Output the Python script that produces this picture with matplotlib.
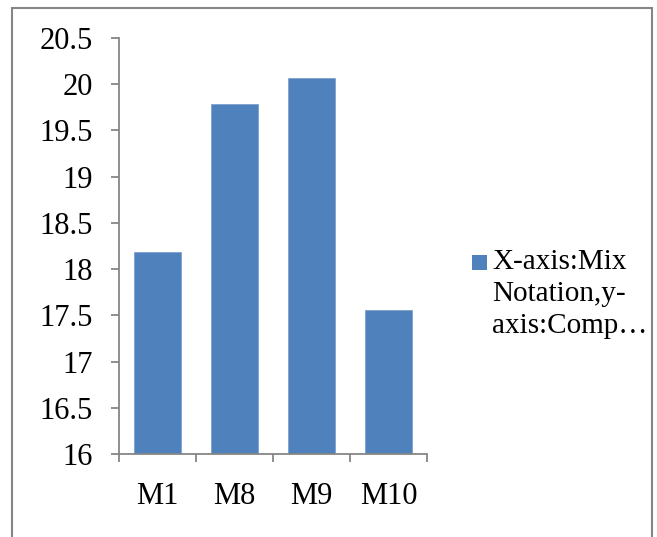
import matplotlib
matplotlib.use("Agg")
import matplotlib.pyplot as plt
from matplotlib.patches import Rectangle

categories = ["M1", "M8", "M9", "M10"]
values = [18.18, 19.79, 20.07, 17.56]
yticks = [16, 16.5, 17, 17.5, 18, 18.5, 19, 19.5, 20, 20.5]
ytick_labels = ["16", "16.5", "17", "17.5", "18", "18.5", "19", "19.5", "20", "20.5"]
legend_label = "X-axis:Mix\nNotation,y-\naxis:Comp…"

W, H = 657, 537
plt.rcParams['font.family'] = ['Liberation Serif', 'DejaVu Serif']
fig = plt.figure(figsize=(W / 100, H / 100), dpi=100)

ax = fig.add_axes([119 / W, 1 - 454 / H, (427 - 119) / W, (454 - 38) / H])
x = list(range(len(categories)))
bars = ax.bar(x, [v - 16 for v in values], bottom=16, width=0.6,
              color="#4F81BD", edgecolor="#7FA1CF", linewidth=0.6)
ax.set_xlim(-0.5, len(categories) - 0.5)
ax.set_ylim(16, 20.5)

spine_c = "#868686"
for s in ["top", "right"]:
    ax.spines[s].set_visible(False)
for s in ["left", "bottom"]:
    ax.spines[s].set_color(spine_c)
    ax.spines[s].set_linewidth(1.3)

ax.set_yticks(yticks)
ax.set_yticklabels(ytick_labels)
ax.tick_params(axis="y", direction="out", length=6, width=1.3, color=spine_c,
               labelsize=22, pad=13)
ax.set_xticks(x)
ax.set_xticklabels(categories)
ax.tick_params(axis="x", which="major", length=0, labelsize=22, pad=20)
ax.set_xticks([i - 0.5 for i in range(len(categories) + 1)], minor=True)
ax.tick_params(axis="x", which="minor", direction="out", length=6, width=1.3, color=spine_c)

# legend
fig.patches.append(Rectangle((472 / W, 1 - 270 / H), 15 / W, 15 / H,
                             transform=fig.transFigure, facecolor="#4F81BD",
                             edgecolor="none"))
fig.text(492 / W, 1 - 249 / H, legend_label, fontsize=21, va="top", ha="left",
         linespacing=1.3)

# outer border
fig.patches.append(Rectangle((12 / W, -0.02), (652 - 12) / W, 1.02 - 8 / H,
                             transform=fig.transFigure, facecolor="none",
                             edgecolor=spine_c, linewidth=1.5))

fig.savefig("out.png", dpi=100)
